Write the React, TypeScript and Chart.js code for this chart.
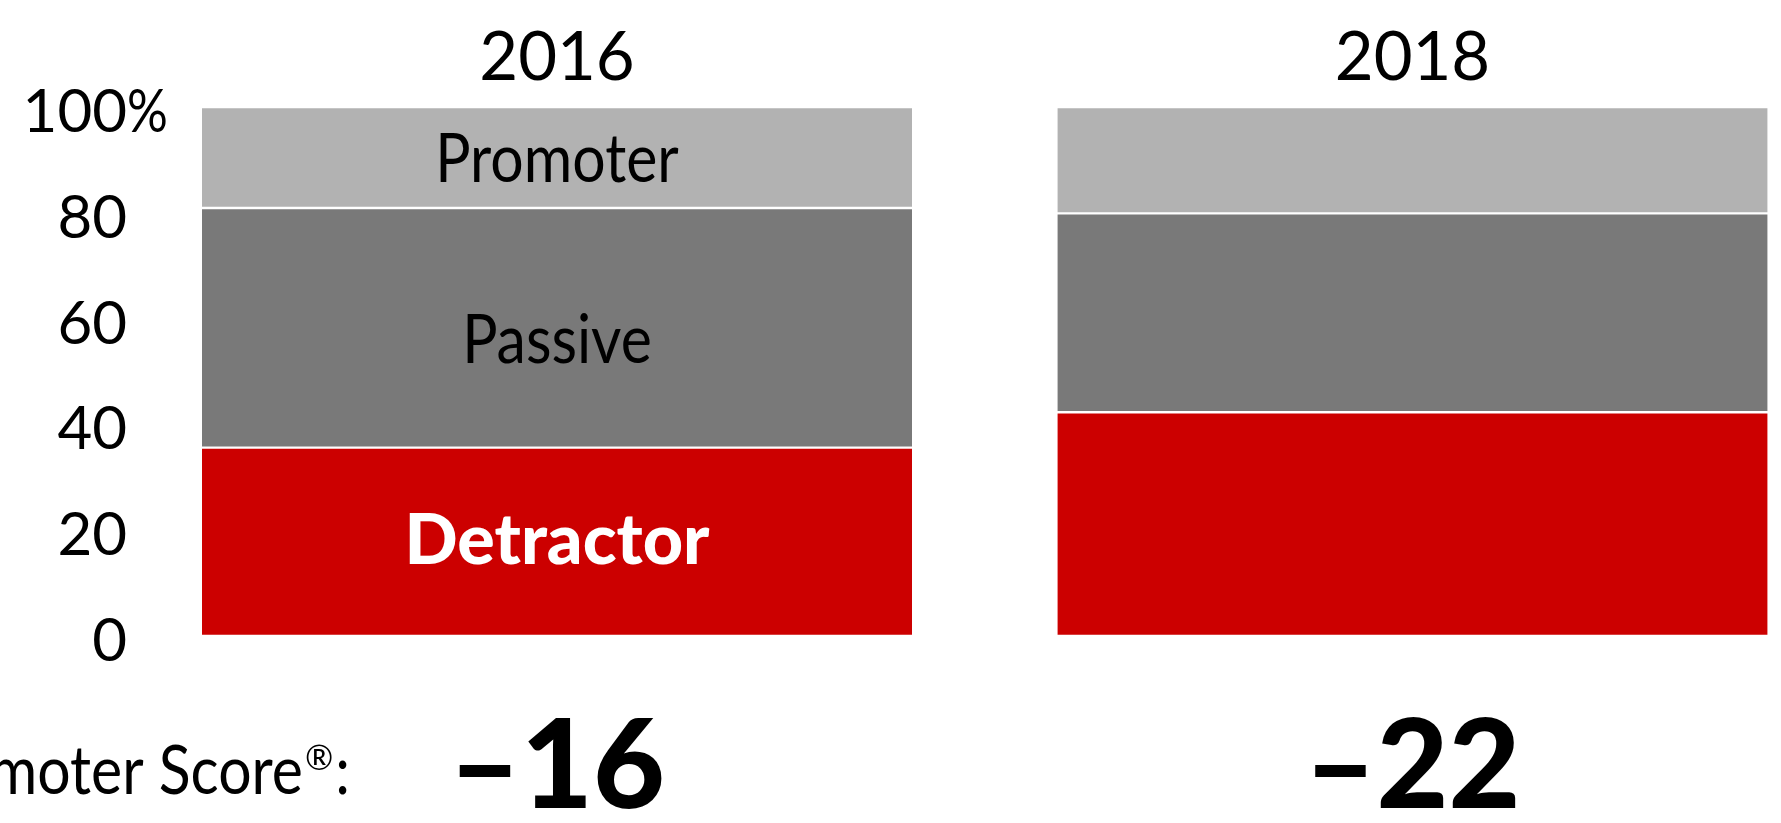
import React, { useEffect, useRef } from "react";
import { Chart, registerables } from "chart.js";

Chart.register(...registerables);

const categories = ["2016", "2018"];
const detractorValues = [35.6, 42.3];
const passiveValues = [45.3, 37.6];
const promoterValues = [19.1, 20.1];
const npsScores = ["\u201316", "\u201322"];
const yTickValues = [0, 20, 40, 60, 80, 100];
const segmentNames = ["Detractor", "Passive", "Promoter"];
const scoreCaption = "Net Promoter Score";

const COLORS = {
  detractor: "#CC0000",
  passive: "#797979",
  promoter: "#B2B2B2",
};
const FONT = "Lato, 'Open Sans', 'DejaVu Sans', sans-serif";
const LABEL_OFFSETS = [22, 35, 24];
const CONDENSE = 0.88;

function drawCondensed(ctx: CanvasRenderingContext2D, text: string, x: number, y: number, sx: number, align: CanvasTextAlign) {
  ctx.save();
  ctx.translate(x, y);
  ctx.scale(sx, 1);
  ctx.textAlign = align;
  ctx.fillText(text, 0, 0);
  ctx.restore();
}

export default function App() {
  const ref = useRef<HTMLCanvasElement | null>(null);

  useEffect(() => {
    document.body.style.margin = "0";
    const canvas = ref.current;
    if (!canvas) return;

    const overlay = {
      id: "overlay",
      afterDraw(chart: any) {
        const { ctx, scales } = chart;
        const x = scales.x;
        const y = scales.y;
        ctx.save();
        ctx.fillStyle = "#000";
        ctx.textBaseline = "alphabetic";

        // y tick labels
        ctx.font = `400 60px ${FONT}`;
        yTickValues.forEach((v) => {
          const py = y.getPixelForValue(v) + 25;
          ctx.textAlign = "right";
          ctx.fillText(String(v), 127, py);
          if (v === 100) {
            drawCondensed(ctx, "%", 127, py, 0.85, "left");
          }
        });

        // category titles
        ctx.font = `400 67px ${FONT}`;
        ctx.textAlign = "center";
        categories.forEach((c, i) => {
          ctx.fillText(c, x.getPixelForValue(i), 80);
        });

        // segment labels in first bar
        const cx = x.getPixelForValue(0);
        let base = 0;
        const stacks = [detractorValues[0], passiveValues[0], promoterValues[0]];
        stacks.forEach((val, k) => {
          const top = y.getPixelForValue(base + val);
          const bottom = y.getPixelForValue(base);
          const mid = (top + bottom) / 2;
          base += val;
          if (k === 0) {
            ctx.font = `900 70px ${FONT}`;
            ctx.fillStyle = "#FFFFFF";
            drawCondensed(ctx, segmentNames[k], cx, mid + LABEL_OFFSETS[k], 1, "center");
          } else {
            ctx.font = `400 67px ${FONT}`;
            ctx.fillStyle = "#000";
            drawCondensed(ctx, segmentNames[k], cx, mid + LABEL_OFFSETS[k], CONDENSE, "center");
          }
        });

        // NPS scores
        ctx.fillStyle = "#000";
        ctx.font = `900 124px ${FONT}`;
        ctx.textAlign = "center";
        npsScores.forEach((s, i) => {
          ctx.fillText(s, x.getPixelForValue(i), 808);
        });

        // caption, right-aligned at x=350
        ctx.font = `400 67px ${FONT}`;
        const w1 = ctx.measureText(scoreCaption).width * CONDENSE;
        const w3 = ctx.measureText(":").width * CONDENSE;
        ctx.font = `400 34px ${FONT}`;
        const w2 = ctx.measureText("\u00AE").width;
        const start = 350 - (w1 + w2 + w3 + 4);
        ctx.font = `400 67px ${FONT}`;
        drawCondensed(ctx, scoreCaption, start, 794, CONDENSE, "left");
        ctx.font = `400 34px ${FONT}`;
        drawCondensed(ctx, "\u00AE", start + w1 + 2, 770, 1, "left");
        ctx.font = `400 67px ${FONT}`;
        drawCondensed(ctx, ":", start + w1 + w2 + 4, 794, CONDENSE, "left");

        ctx.restore();
      },
    };

    const common = {
      borderColor: "#FFFFFF",
      borderWidth: { top: 1.5, bottom: 1.5, left: 0, right: 0 },
      borderSkipped: false,
      barThickness: 710,
      clip: false,
    };

    const chart = new Chart(canvas, {
      type: "bar",
      data: {
        labels: categories,
        datasets: [
          { label: segmentNames[0], data: detractorValues, backgroundColor: COLORS.detractor, ...common },
          { label: segmentNames[1], data: passiveValues, backgroundColor: COLORS.passive, ...common },
          { label: segmentNames[2], data: promoterValues, backgroundColor: COLORS.promoter, ...common },
        ],
      } as any,
      options: {
        animation: false,
        responsive: false,
        maintainAspectRatio: false,
        layout: { padding: { top: 107, bottom: 187, left: 557, right: 368.5 } },
        plugins: {
          legend: { display: false },
          tooltip: { enabled: false },
        },
        scales: {
          x: { stacked: true, display: false, offset: false },
          y: { stacked: true, display: false, min: 0, max: 100 },
        },
      } as any,
      plugins: [overlay],
    });

    return () => chart.destroy();
  }, []);

  return (
    <div style={{ width: 1781, height: 823, background: "#fff" }}>
      <canvas ref={ref} width={1781} height={823} style={{ display: "block" }} />
    </div>
  );
}
